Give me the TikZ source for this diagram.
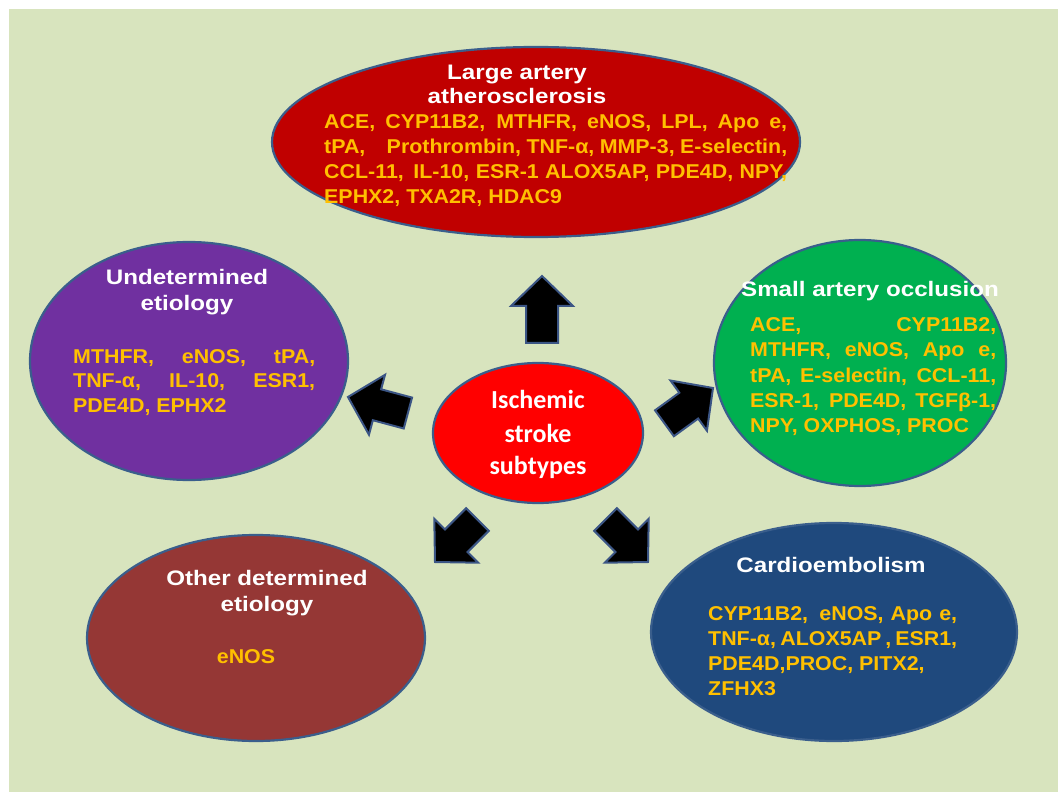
\documentclass[tikz,border=0pt]{standalone}
\usepackage{fontspec}
\setmainfont{Liberation Sans}
\newfontfamily\titlefont[FakeStretch=1.15]{Liberation Sans}
\newfontfamily\genefont[FakeStretch=1.07]{Liberation Sans}
\newfontfamily\calfont{Carlito}
\usetikzlibrary{shapes.geometric}
\definecolor{bggreen}{HTML}{D8E4BE}
\definecolor{outl}{HTML}{3A5E8C}
\definecolor{arrowoutl}{HTML}{3B5585}
\definecolor{gold}{HTML}{FFC000}
\definecolor{darkred}{HTML}{C00000}
\definecolor{purp}{HTML}{7030A0}
\definecolor{grn}{HTML}{00B050}
\definecolor{brightred}{HTML}{FF0000}
\definecolor{brown}{HTML}{953735}
\definecolor{navy}{HTML}{1F497D}
\newcommand\blockarrow[4]{% tip x, tip y, angle, length
  \begin{scope}[shift={(#1,#2)}, rotate=#3]
    \draw[barrow] (0,0) -- (-30,-31) -- (-30,-16) -- (-#4,-16) -- (-#4,16) -- (-30,16) -- (-30,31) -- cycle;
  \end{scope}}
\newcommand\jline[2]{\makebox[#1][s]{#2}}
\begin{document}
\begin{tikzpicture}[x=1pt,y=-1pt,
  ell/.style={ellipse, draw=outl, line width=2.2pt, inner sep=0pt},
  ttl/.style={text=white, font=\titlefont\bfseries\fontsize{21}{25}\selectfont, anchor=base, inner sep=0pt},
  gene/.style={text=gold, font=\genefont\bfseries\fontsize{20}{25}\selectfont, anchor=base west, inner sep=0pt},
  ctr/.style={text=white, font=\calfont\bfseries\fontsize{26}{32}\selectfont, anchor=base, inner sep=0pt},
  barrow/.style={fill=black, draw=arrowoutl, line width=2pt, line join=miter}]
\useasboundingbox (0,0) rectangle (1058,794);
\fill[white] (0,0) rectangle (1058,794);
\fill[bggreen] (9,9) rectangle (1058,792);

% ellipses
\node[ell, fill=darkred, minimum width=528pt, minimum height=190pt] (laa) at (536,142) {};
\node[ell, fill=purp, minimum width=318pt, minimum height=238pt] (und) at (189,361) {};
\node[ell, fill=grn, minimum width=292pt, minimum height=246pt] (sao) at (860,363) {};
\node[ell, fill=brightred, minimum width=210pt, minimum height=140pt] (isc) at (538,433) {};
\node[ell, fill=brown, minimum width=338pt, minimum height=206pt] (oth) at (256,638) {};
\node[ell, fill=navy, minimum width=366pt, minimum height=218pt] (car) at (834,632) {};

% arrows
\blockarrow{542}{276}{90}{67}
\blockarrow{348}{397}{165}{62}
\blockarrow{713}{388}{36}{60}
\blockarrow{435}{562}{225}{60}
\blockarrow{648}{562}{315}{60}

% center
\node[ctr] (c1) at (538,409) {Ischemic};
\node[ctr] (c2) at (538,442) {stroke};
\node[ctr] (c3) at (538,474) {subtypes};

% large artery
\node[ttl] (laat1) at (517,80) {Large artery};
\node[ttl] (laat2) at (517,104) {atherosclerosis};
\node[gene] (laag1) at (324,129) {\jline{463pt}{ACE, CYP11B2, MTHFR, eNOS, LPL, Apo e,}};
\node[gene] (laag2) at (324,154) {\jline{463pt}{tPA,\hspace{16pt} Prothrombin, TNF-α, MMP-3, E-selectin,}};
\node[gene] (laag3) at (324,179) {\jline{463pt}{CCL-11,\hspace{3pt} IL-10, ESR-1 ALOX5AP, PDE4D, NPY,}};
\node[gene] (laag4) at (324,204) {EPHX2, TXA2R, HDAC9};

% undetermined
\node[ttl] (undt1) at (187,285) {Undetermined};
\node[ttl] (undt2) at (187,311) {etiology};
\node[gene] (undg1) at (73,363) {\jline{242pt}{MTHFR, eNOS, tPA,}};
\node[gene] (undg2) at (73,388) {\jline{242pt}{TNF-α, IL-10, ESR1,}};
\node[gene] (undg3) at (73,413) {PDE4D, EPHX2};

% small artery
\node[ttl] (saot) at (870,297) {Small artery occlusion};
\node[gene] (saog1) at (750,332) {\jline{246pt}{ACE, CYP11B2,}};
\node[gene] (saog2) at (750,357) {\jline{246pt}{MTHFR, eNOS, Apo e,}};
\node[gene] (saog3) at (750,382) {\jline{246pt}{tPA, E-selectin, CCL-11,}};
\node[gene] (saog4) at (750,407) {\jline{246pt}{ESR-1, PDE4D, TGFβ-1,}};
\node[gene] (saog5) at (750,432) {NPY, OXPHOS, PROC};

% other determined
\node[ttl] (otht1) at (267,585) {Other determined};
\node[ttl] (otht2) at (267,611) {etiology};
\node[gene, anchor=base] (othg) at (246,663) {eNOS};

% cardioembolism
\node[ttl] (cart) at (831,572) {Cardioembolism};
\node[gene] (carg1) at (708,620) {\jline{249pt}{CYP11B2,\hspace{4pt} eNOS, Apo e,}};
\node[gene] (carg2) at (708,645) {\jline{249pt}{TNF-α, ALOX5AP , ESR1,}};
\node[gene] (carg3) at (708,670) {PDE4D,PROC, PITX2,};
\node[gene] (carg4) at (708,695) {ZFHX3};
\end{tikzpicture}
\end{document}
